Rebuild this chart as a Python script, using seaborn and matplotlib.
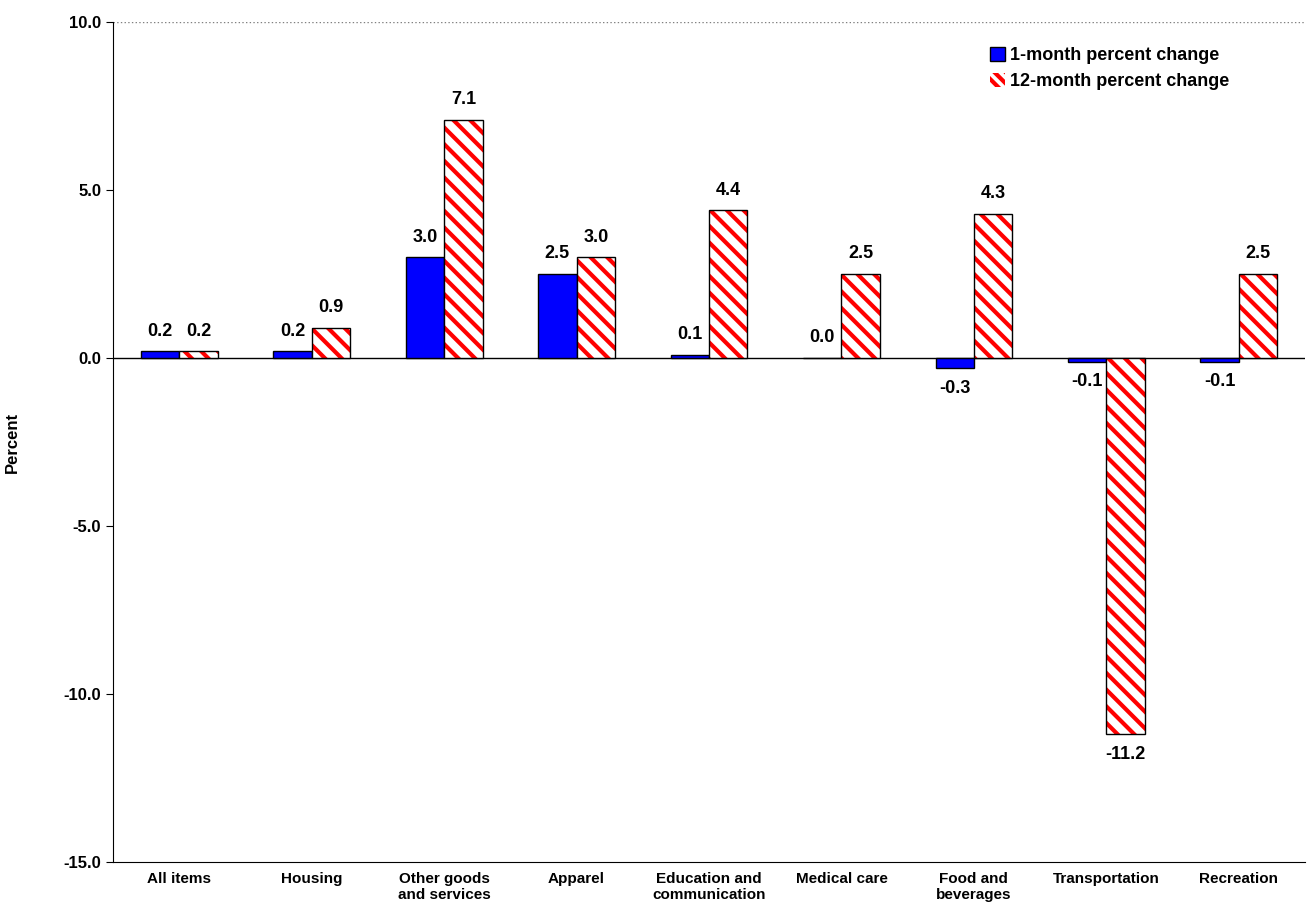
import pandas as pd
import matplotlib.pyplot as plt
import seaborn as sns
from matplotlib.patches import Patch, Rectangle

sns.set_style('white')
plt.rcParams['font.family'] = ['Liberation Sans', 'DejaVu Sans']
plt.rcParams['font.weight'] = 'bold'
plt.rcParams['hatch.linewidth'] = 3
plt.rcParams['text.color'] = 'black'
plt.rcParams['xtick.color'] = 'black'
plt.rcParams['ytick.color'] = 'black'
plt.rcParams['axes.labelcolor'] = 'black'

categories = ['All items', 'Housing', 'Other goods\nand services', 'Apparel',
              'Education and\ncommunication', 'Medical care', 'Food and\nbeverages',
              'Transportation', 'Recreation']
one_month = [0.2, 0.2, 3.0, 2.5, 0.1, 0.0, -0.3, -0.1, -0.1]
twelve_month = [0.2, 0.9, 7.1, 3.0, 4.4, 2.5, 4.3, -11.2, 2.5]
series = ['1-month percent change', '12-month percent change']

df = pd.DataFrame({
    'category': categories * 2,
    'value': one_month + twelve_month,
    'series': [series[0]] * 9 + [series[1]] * 9,
})

fig = plt.figure(figsize=(13.07, 9.24), dpi=100)
ax = fig.add_axes([0.0865, 0.067, 0.912, 0.909])
sns.barplot(data=df, x='category', y='value', hue='series', order=categories,
            hue_order=series, palette=['#0000ff', 'white'], width=0.58,
            edgecolor='black', linewidth=1, saturation=1, ax=ax, legend=False)

n = len(categories)
for i, p in enumerate(list(ax.patches[:2 * n])):
    if i >= n:
        p.set_hatch('\\\\')
        p.set_edgecolor('#ff0000')
        p.set_linewidth(0)
        ax.add_patch(Rectangle((p.get_x(), p.get_y()), p.get_width(), p.get_height(),
                               fill=False, edgecolor='black', linewidth=1, zorder=p.get_zorder() + 0.1))
    v = p.get_height()
    x = p.get_x() + p.get_width() / 2
    if v >= 0:
        ax.text(x, v + 0.35, f'{v:.1f}', ha='center', va='bottom', fontsize=13, fontweight='bold')
    else:
        ax.text(x, v - 0.35, f'{v:.1f}', ha='center', va='top', fontsize=13, fontweight='bold')

ax.set_ylim(-15, 10)
ax.set_yticks([-15, -10, -5, 0, 5, 10])
ax.set_yticklabels([f'{t:.1f}' for t in [-15, -10, -5, 0, 5, 10]], fontsize=12, fontweight='bold')
ax.set_xlim(-0.5, n - 0.5)
ax.set_xticklabels(categories, fontsize=11, fontweight='bold', va='top')
ax.set_xlabel('')
ax.set_ylabel('Percent', fontsize=12, fontweight='bold')
ax.yaxis.set_label_coords(-0.078, 0.5)
ax.axhline(0, color='black', linewidth=1, zorder=0.5)
ax.axhline(10, color='gray', linewidth=1, linestyle=':', zorder=0.5)
for s in ['top', 'right']:
    ax.spines[s].set_visible(False)
for s in ['left', 'bottom']:
    ax.spines[s].set_color('black')
ax.tick_params(axis='y', left=True, length=5, color='black')
ax.tick_params(axis='x', bottom=False)

handles = [Patch(facecolor='#0000ff', edgecolor='black'),
           Patch(facecolor='white', edgecolor='#ff0000', hatch='\\\\\\', linewidth=0)]
leg = ax.legend(handles, series, loc='upper right', bbox_to_anchor=(0.95, 0.99), frameon=False,
                handlelength=0.8, handleheight=0.8, handletextpad=0.3,
                prop={'weight': 'bold', 'size': 13})

fig.savefig('out.png', dpi=100)
